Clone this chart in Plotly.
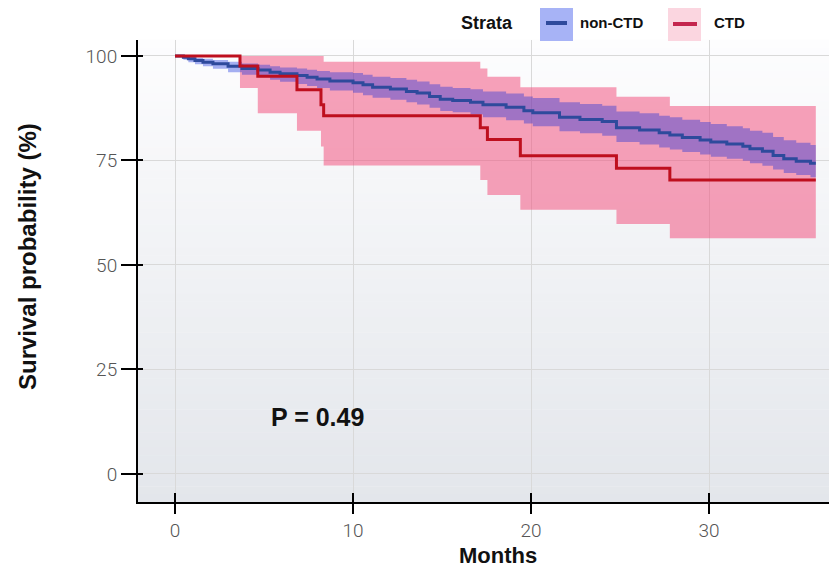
import plotly.graph_objects as go

# ---------------- data ----------------
months_nonctd = [0, 0.47, 0.75, 1.12, 1.57, 2.13, 2.98, 3.76, 4.66, 5.34, 5.90, 6.85, 7.42, 7.98,
                 8.7, 10.0, 10.56, 11.1, 12.1, 13.0, 13.6, 14.3, 14.9, 15.6, 16.6, 17.3, 18.6,
                 19.6, 20.1, 21.6, 22.75, 24.0, 24.8, 26.1, 27.2, 27.8, 28.5, 29.5, 30.1, 31.0,
                 31.9, 32.3, 33.0, 33.6, 34.2, 34.9, 35.7, 36.0]
surv_nonctd = [100, 99.7, 99.3, 98.9, 98.5, 98.1, 97.5, 97.0, 96.6, 96.1, 95.7, 95.3, 94.9, 94.5,
               94.0, 93.6, 93.1, 92.5, 92.1, 91.5, 91.1, 90.3, 89.6, 89.3, 88.9, 88.3, 87.7,
               86.9, 86.4, 85.3, 84.8, 84.3, 82.8, 82.3, 81.6, 81.1, 80.5, 79.9, 79.4, 78.9,
               78.4, 77.8, 77.2, 76.2, 75.4, 74.8, 74.3, 74.3]
upper_nonctd = [100, 100, 99.8, 99.5, 99.3, 99.0, 98.6, 98.2, 97.9, 97.5, 97.2, 97.0, 96.7, 96.4,
                96.1, 95.9, 95.5, 95.0, 94.7, 94.3, 93.9, 93.2, 92.6, 92.3, 92.0, 91.5, 91.0,
                90.3, 89.9, 88.9, 88.5, 88.1, 86.7, 86.3, 85.7, 85.3, 84.7, 84.2, 83.7, 83.2,
                82.7, 82.1, 81.6, 80.6, 79.8, 79.2, 78.7, 78.7]
lower_nonctd = [100, 99.1, 98.5, 98.0, 97.5, 96.9, 96.1, 95.5, 94.9, 94.3, 93.8, 93.3, 92.8, 92.3,
                91.7, 91.2, 90.6, 90.0, 89.5, 88.9, 88.4, 87.6, 86.8, 86.5, 86.0, 85.3, 84.6,
                83.8, 83.2, 82.0, 81.5, 80.9, 79.4, 78.8, 78.1, 77.6, 77.0, 76.4, 75.9, 75.4,
                74.9, 74.3, 73.7, 72.8, 72.0, 71.5, 71.0, 71.0]

months_ctd = [0, 3.65, 4.65, 6.85, 8.2, 8.35, 17.15, 17.55, 19.4, 24.8, 27.8, 36.0]
surv_ctd = [100, 97.6, 95.1, 91.9, 88.3, 85.7, 82.8, 80.0, 76.1, 73.1, 70.3, 70.3]
upper_ctd = [100, 100, 100, 100, 100, 98.6, 97.0, 95.0, 92.5, 90.2, 88.0, 88.0]
lower_ctd = [100, 92.3, 86.3, 82.1, 78.3, 73.8, 70.3, 66.7, 63.2, 59.8, 56.4, 56.4]

x_ticks = [0, 10, 20, 30]
y_ticks = [0, 25, 50, 75, 100]
strata_names = ["non-CTD", "CTD"]
p_text = "P = 0.49"

# ---------------- style ----------------
BLUE_LINE = "#2E4A9C"
RED_LINE = "#BE0F1E"
PINK_FILL = "rgba(242,80,124,0.53)"
BLUE_FILL = "rgba(10,40,220,0.36)"
TITLE_FONT = "Liberation Sans, Arial, sans-serif"
TICK_FONT = "Roboto, Liberation Sans, sans-serif"

XR = [-2.08, 37.64]
YR = [-6.7, 103.8]

fig = go.Figure()

# CTD confidence band
fig.add_trace(go.Scatter(x=months_ctd, y=upper_ctd, mode="lines",
                         line=dict(width=0, shape="hv"), showlegend=False, hoverinfo="skip"))
fig.add_trace(go.Scatter(x=months_ctd, y=lower_ctd, mode="lines",
                         line=dict(width=0, shape="hv"), fill="tonexty", fillcolor=PINK_FILL,
                         showlegend=False, hoverinfo="skip"))
# non-CTD confidence band
fig.add_trace(go.Scatter(x=months_nonctd, y=upper_nonctd, mode="lines",
                         line=dict(width=0, shape="hv"), showlegend=False, hoverinfo="skip"))
fig.add_trace(go.Scatter(x=months_nonctd, y=lower_nonctd, mode="lines",
                         line=dict(width=0, shape="hv"), fill="tonexty", fillcolor=BLUE_FILL,
                         showlegend=False, hoverinfo="skip"))
# curves
fig.add_trace(go.Scatter(x=months_nonctd, y=surv_nonctd, mode="lines", name=strata_names[0],
                         line=dict(color=BLUE_LINE, width=3, shape="hv"), showlegend=False))
fig.add_trace(go.Scatter(x=months_ctd, y=surv_ctd, mode="lines", name=strata_names[1],
                         line=dict(color=RED_LINE, width=3, shape="hv"), showlegend=False))
# helper (empty) trace for inner tick marks
fig.add_trace(go.Scatter(x=[None], y=[None], xaxis="x2", yaxis="y2", mode="lines",
                         showlegend=False, hoverinfo="skip"))

# gradient panel background
shapes = []
n_bands = 60
top = (253, 253, 254)
bot = (227, 230, 235)
for i in range(n_bands):
    f = (i + 0.5) / n_bands
    c = tuple(round(top[k] + (bot[k] - top[k]) * f) for k in range(3))
    shapes.append(dict(type="rect", xref="paper", yref="paper", x0=0, x1=1,
                       y0=1 - (i + 1) / n_bands, y1=1 - i / n_bands + 0.001,
                       fillcolor="rgb(%d,%d,%d)" % c, line=dict(width=0), layer="below"))

# manual legend (positions given in page pixels)
W, H, L, T = 707.0, 462.0, 138.0, 40.0
def px(x):
    return (x - L) / W
def py(y):
    return (T + H - y) / H

shapes += [
    dict(type="rect", xref="paper", yref="paper", x0=px(540), x1=px(573), y0=py(41), y1=py(7),
         fillcolor="#A7B3F6", line=dict(width=0)),
    dict(type="line", xref="paper", yref="paper", x0=px(546), x1=px(567), y0=py(23), y1=py(23),
         line=dict(color=BLUE_LINE, width=4)),
    dict(type="rect", xref="paper", yref="paper", x0=px(668), x1=px(701), y0=py(41), y1=py(7),
         fillcolor="#FBD6E0", line=dict(width=0)),
    dict(type="line", xref="paper", yref="paper", x0=px(673), x1=px(697), y0=py(24), y1=py(24),
         line=dict(color="#C4264E", width=4)),
]

annotations = [
    dict(text="<b>Strata</b>", xref="paper", yref="paper", x=px(459), y=py(23), xanchor="left",
         yanchor="middle", showarrow=False, font=dict(family=TITLE_FONT, size=18, color="#111")),
    dict(text="<b>" + strata_names[0] + "</b>", xref="paper", yref="paper", x=px(578), y=py(23),
         xanchor="left", yanchor="middle", showarrow=False,
         font=dict(family=TITLE_FONT, size=15, color="#111")),
    dict(text="<b>" + strata_names[1] + "</b>", xref="paper", yref="paper", x=px(712), y=py(23),
         xanchor="left", yanchor="middle", showarrow=False,
         font=dict(family=TITLE_FONT, size=15, color="#111")),
    dict(text="<b>Months</b>", xref="paper", yref="paper", x=px(498), y=py(555),
         xanchor="center", yanchor="middle", showarrow=False,
         font=dict(family=TITLE_FONT, size=22, color="#111")),
    dict(text="<b>Survival probability (%)</b>", xref="paper", yref="paper", x=px(27), y=py(257),
         xanchor="center", yanchor="middle", textangle=-90, showarrow=False,
         font=dict(family=TITLE_FONT, size=24, color="#111")),
    dict(text="<b>" + p_text + "</b>", xref="x", yref="y", x=5.3, y=13.6,
         xanchor="left", yanchor="middle", showarrow=False,
         font=dict(family=TITLE_FONT, size=25, color="#111")),
]

# the page body adds an 8 px offset, so margins are shifted by 8 px
fig.update_layout(
    width=837, height=560, autosize=False,
    margin=dict(l=130, r=0, t=32, b=66, pad=0),
    paper_bgcolor="white", plot_bgcolor="white",
    shapes=shapes, annotations=annotations, showlegend=False,
    xaxis=dict(range=XR, tickvals=x_ticks, ticks="outside", ticklen=10, tickwidth=2,
               tickcolor="black", showline=True, linecolor="black", linewidth=2,
               showgrid=True, gridcolor="#D9D9D9", gridwidth=1, zeroline=False,
               tickfont=dict(family=TICK_FONT, size=19, color="#555555", weight=300)),
    yaxis=dict(range=YR, tickvals=y_ticks, ticks="outside", ticklen=15, tickwidth=2,
               tickcolor="black", showline=True, linecolor="black", linewidth=2,
               showgrid=True, gridcolor="#D9D9D9", gridwidth=1, zeroline=False,
               tickfont=dict(family=TICK_FONT, size=19, color="#555555", weight=300)),
    xaxis2=dict(range=XR, overlaying="x", anchor="y2", side="bottom", tickvals=x_ticks,
                ticks="inside", ticklen=9, tickwidth=2, tickcolor="black",
                showticklabels=False, showgrid=False, showline=False, zeroline=False),
    yaxis2=dict(range=YR, overlaying="y", anchor="x2", side="left", tickvals=y_ticks,
                ticks="inside", ticklen=5, tickwidth=2, tickcolor="black",
                showticklabels=False, showgrid=False, showline=False, zeroline=False),
)

fig.write_html("out.html")
